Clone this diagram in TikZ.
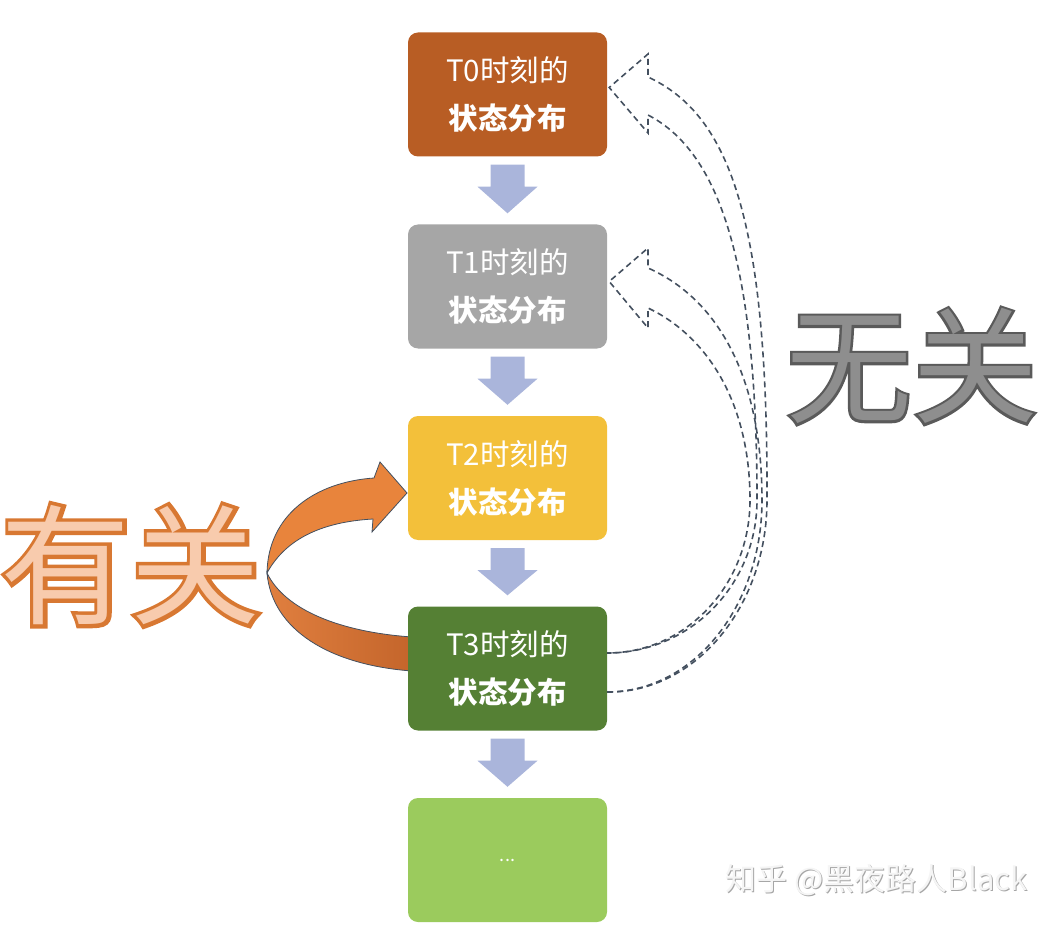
\documentclass[tikz,border=0pt]{standalone}
\usepackage{fontspec}
\setmainfont{Noto Sans CJK SC}
\newfontfamily\cjk{Noto Sans CJK SC}
\newfontfamily\cjkfat[FakeBold=6]{Noto Sans CJK SC}
\newfontfamily\cjkmid[FakeBold=4]{Noto Sans CJK SC}
\usetikzlibrary{calc}
\definecolor{cT0}{HTML}{B85D24}
\definecolor{cT1}{HTML}{A6A6A6}
\definecolor{cT2}{HTML}{F3C03A}
\definecolor{cT3}{HTML}{558034}
\definecolor{cT4}{HTML}{9BCB5D}
\definecolor{arrowblue}{HTML}{AAB5DB}
\definecolor{dashgray}{HTML}{44505F}
\definecolor{ribbonA}{HTML}{E8843C}
\definecolor{ribbonB}{HTML}{C4652B}
\definecolor{ribbonC}{HTML}{E07F3F}
\definecolor{peach}{HTML}{F8CBAD}
\definecolor{orangeline}{HTML}{D87832}
\definecolor{grayfill}{HTML}{8E8E8E}
\definecolor{grayline}{HTML}{5A5A5A}
\begin{document}
\begin{tikzpicture}[x=1pt,y=-1pt]
\useasboundingbox (0,0) rectangle (1060,925);
\tikzset{
  statebox/.style={rounded corners=10pt, minimum width=199pt, minimum height=124pt,
    inner sep=0pt, text=white, align=center, font=\fontsize{29.5}{48}\selectfont},
  downarrow/.style={fill=arrowblue, draw=none},
  farrow/.style={draw=dashgray, line width=1.6pt, dash pattern=on 6pt off 4pt},
  ribbon/.style={draw=dashgray, line width=0.8pt},
  bigtext/.style={inner sep=0pt, font=\fontsize{130}{140}\selectfont},
  wmtext/.style={inner sep=0pt, font=\fontsize{31}{34}\selectfont},
}
% orange ribbon (drawn below boxes)
\path[ribbon, left color=ribbonC, right color=ribbonB]
  (267,573) .. controls (272,630) and (330,665) .. (412,671)
  -- (412,637) .. controls (340,632) and (285,610) .. (267,573) -- cycle;
\path[ribbon, fill=ribbonA]
  (267,573) .. controls (268,515) and (315,482) .. (374,478)
  -- (380,462) -- (407,493) -- (372,532) -- (373,519)
  .. controls (320,522) and (285,540) .. (267,573) -- cycle;

% state boxes
\node[statebox, fill=cT0] (t0) at (507.5,94.5) {T0时刻的\\\textbf{状态分布}};
\node[statebox, fill=cT1] (t1) at (507.5,286.5) {T1时刻的\\\textbf{状态分布}};
\node[statebox, fill=cT2] (t2) at (507.5,478) {T2时刻的\\\textbf{状态分布}};
\node[statebox, fill=cT3] (t3) at (507.5,668.5) {T3时刻的\\\textbf{状态分布}};
\node[statebox, fill=cT4, font=\fontsize{18}{20}\selectfont] (t4) at (507.5,860) {...};

% small down arrows
\foreach \a/\b in {t0/t1,t1/t2,t2/t3,t3/t4}{
  \fill[downarrow] ($(\a.south)+(-17,8)$) -- ($(\a.south)+(17,8)$) -- ($(\a.south)+(17,30)$)
    -- ($(\a.south)+(30,30)$) -- ($(\b.north)+(0,-11)$) -- ($(\a.south)+(-30,30)$)
    -- ($(\a.south)+(-17,30)$) -- cycle;
}

% dashed block arrows from T3 back to T0 and T1
\coordinate (t3in) at ($(t3.east)+(0,-15.5)$);
\coordinate (t3out) at ($(t3.east)+(0,23.5)$);
\draw[farrow] (t3out) .. controls (695,693) and (767,607) .. (767,500)
  .. controls (768,220) and (730,115) .. (648,77) -- (648,54) -- ($(t0.east)+(2,-7)$)
  -- (648,133) -- (648,115) .. controls (715,150) and (757,250) .. (757,500)
  .. controls (757,585) and (690,653) .. (t3in);
\draw[farrow] (t3out) .. controls (693,692) and (762,607) .. (762,500)
  .. controls (762,380) and (720,300) .. (648,268) -- (648,248) -- ($(t1.east)+(2,-5)$)
  -- (648,328) -- (648,308) .. controls (705,335) and (750,400) .. (750,500)
  .. controls (750,585) and (686,653) .. (t3in);

% big outlined words
\node[bigtext, text=orangeline] (youguan0) at (131,565) {\cjkfat 有关};
\node[bigtext, text=peach] (youguan) at (131,565) {有关};
\node[bigtext, font=\fontsize{126}{140}\selectfont, text=grayline] (wuguan0) at (912,366) {\cjkmid 无关};
\node[bigtext, font=\fontsize{126}{140}\selectfont, text=grayfill] (wuguan) at (912,366) {无关};

% watermark
\node[wmtext, text=black!35] (wm0) at (877.5,881) {知乎 @黑夜路人Black};
\node[wmtext, text=black!4] (wm) at (876.5,880) {知乎 @黑夜路人Black};
\end{tikzpicture}
\end{document}
